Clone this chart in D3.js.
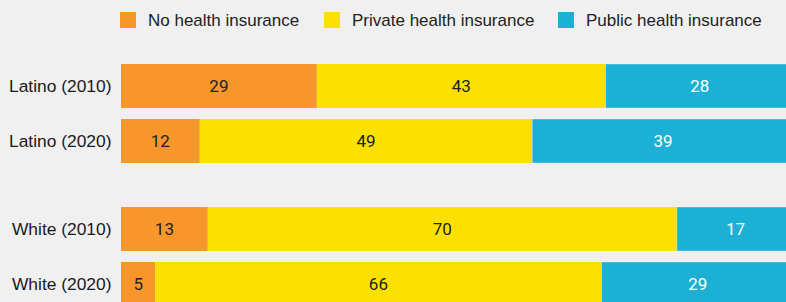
<!DOCTYPE html>
<html>
<head>
<meta charset="utf-8">
<script src="https://cdn.jsdelivr.net/npm/d3@7"></script>
<style>
  html, body { margin: 0; padding: 0; background: #f0f0f0; }
  svg { display: block; }
</style>
</head>
<body>
<svg id="chart" width="786" height="302"></svg>
<script>
// ---- data ----
const groups = ["Latino", "White"];
const years = ["2010", "2020"];
const categories = ["Latino (2010)", "Latino (2020)", "White (2010)", "White (2020)"];
const seriesNames = ["No health insurance", "Private health insurance", "Public health insurance"];
const noInsurance = [29.1, 11.7, 12.9, 5.1];
const privateInsurance = [42.9, 49.4, 69.7, 66.3];
const publicInsurance = [28.0, 38.9, 17.4, 28.6];
const colors = ["#f7962a", "#fbe000", "#1cb0d4"];
const labelColors = ["#222222", "#222222", "#ffffff"];

// ---- build table ----
const rows = categories.map((c, i) => ({
  category: c,
  group: groups[Math.floor(i / 2)],
  year: years[i % 2],
  "No health insurance": noInsurance[i],
  "Private health insurance": privateInsurance[i],
  "Public health insurance": publicInsurance[i]
}));

const stack = d3.stack().keys(seriesNames);
const stacked = stack(rows);

const svg = d3.select("#chart");

const x = d3.scaleLinear().domain([0, 100]).range([121, 794]);
const yOuter = d3.scaleBand().domain(groups).range([64, 306]).paddingInner(44 / 143).paddingOuter(0);
const yInner = d3.scaleBand().domain(years).range([0, yOuter.bandwidth()]).paddingInner(0.2).paddingOuter(0);
const yPos = d => yOuter(d.group) + yInner(d.year);

// bars
const layer = svg.append("g").selectAll("g")
  .data(stacked)
  .join("g")
  .attr("fill", (d, i) => colors[i]);

layer.selectAll("rect")
  .data((d, i) => d.map(v => ({ v, i })))
  .join("rect")
  .attr("x", d => x(d.v[0]))
  .attr("y", d => yPos(d.v.data))
  .attr("width", d => x(d.v[1]) - x(d.v[0]))
  .attr("height", yInner.bandwidth())
  .attr("stroke", d => d.i === 2 ? "rgba(255,255,255,0.35)" : "none")
  .attr("stroke-width", 1);

// value labels
const fmt = d3.format(".0f");
layer.selectAll("text")
  .data((d, i) => d.map(v => ({ v, i })))
  .join("text")
  .attr("x", d => (x(d.v[0]) + x(d.v[1])) / 2)
  .attr("y", d => yPos(d.v.data) + yInner.bandwidth() / 2)
  .attr("dy", "0.36em")
  .attr("text-anchor", "middle")
  .attr("font-family", "Roboto, 'Liberation Sans', sans-serif")
  .attr("font-size", 17)
  .attr("fill", d => labelColors[d.i])
  .text(d => fmt(d.v[1] - d.v[0]));

// category labels
svg.append("g").selectAll("text")
  .data(rows)
  .join("text")
  .attr("x", 111.5)
  .attr("y", d => yPos(d) + yInner.bandwidth() / 2)
  .attr("dy", "0.36em")
  .attr("text-anchor", "end")
  .attr("font-family", "'Liberation Sans', Arial, sans-serif")
  .attr("font-size", 17.4)
  .attr("fill", "#1a1a1a")
  .text(d => d.category);

// legend
const legendX = d3.scalePoint().domain(seriesNames).range([120, 558]);
const legendOffsets = [0, 204, 438];
const legend = svg.append("g");
seriesNames.forEach((name, i) => {
  const lx = 120 + legendOffsets[i];
  legend.append("rect")
    .attr("x", lx).attr("y", 12)
    .attr("width", 16).attr("height", 16)
    .attr("fill", colors[i]);
  legend.append("text")
    .attr("x", lx + 28).attr("y", 26)
    .attr("font-family", "'Liberation Sans', Arial, sans-serif")
    .attr("font-size", 17)
    .attr("fill", "#222222")
    .text(name);
});
</script>
</body>
</html>
